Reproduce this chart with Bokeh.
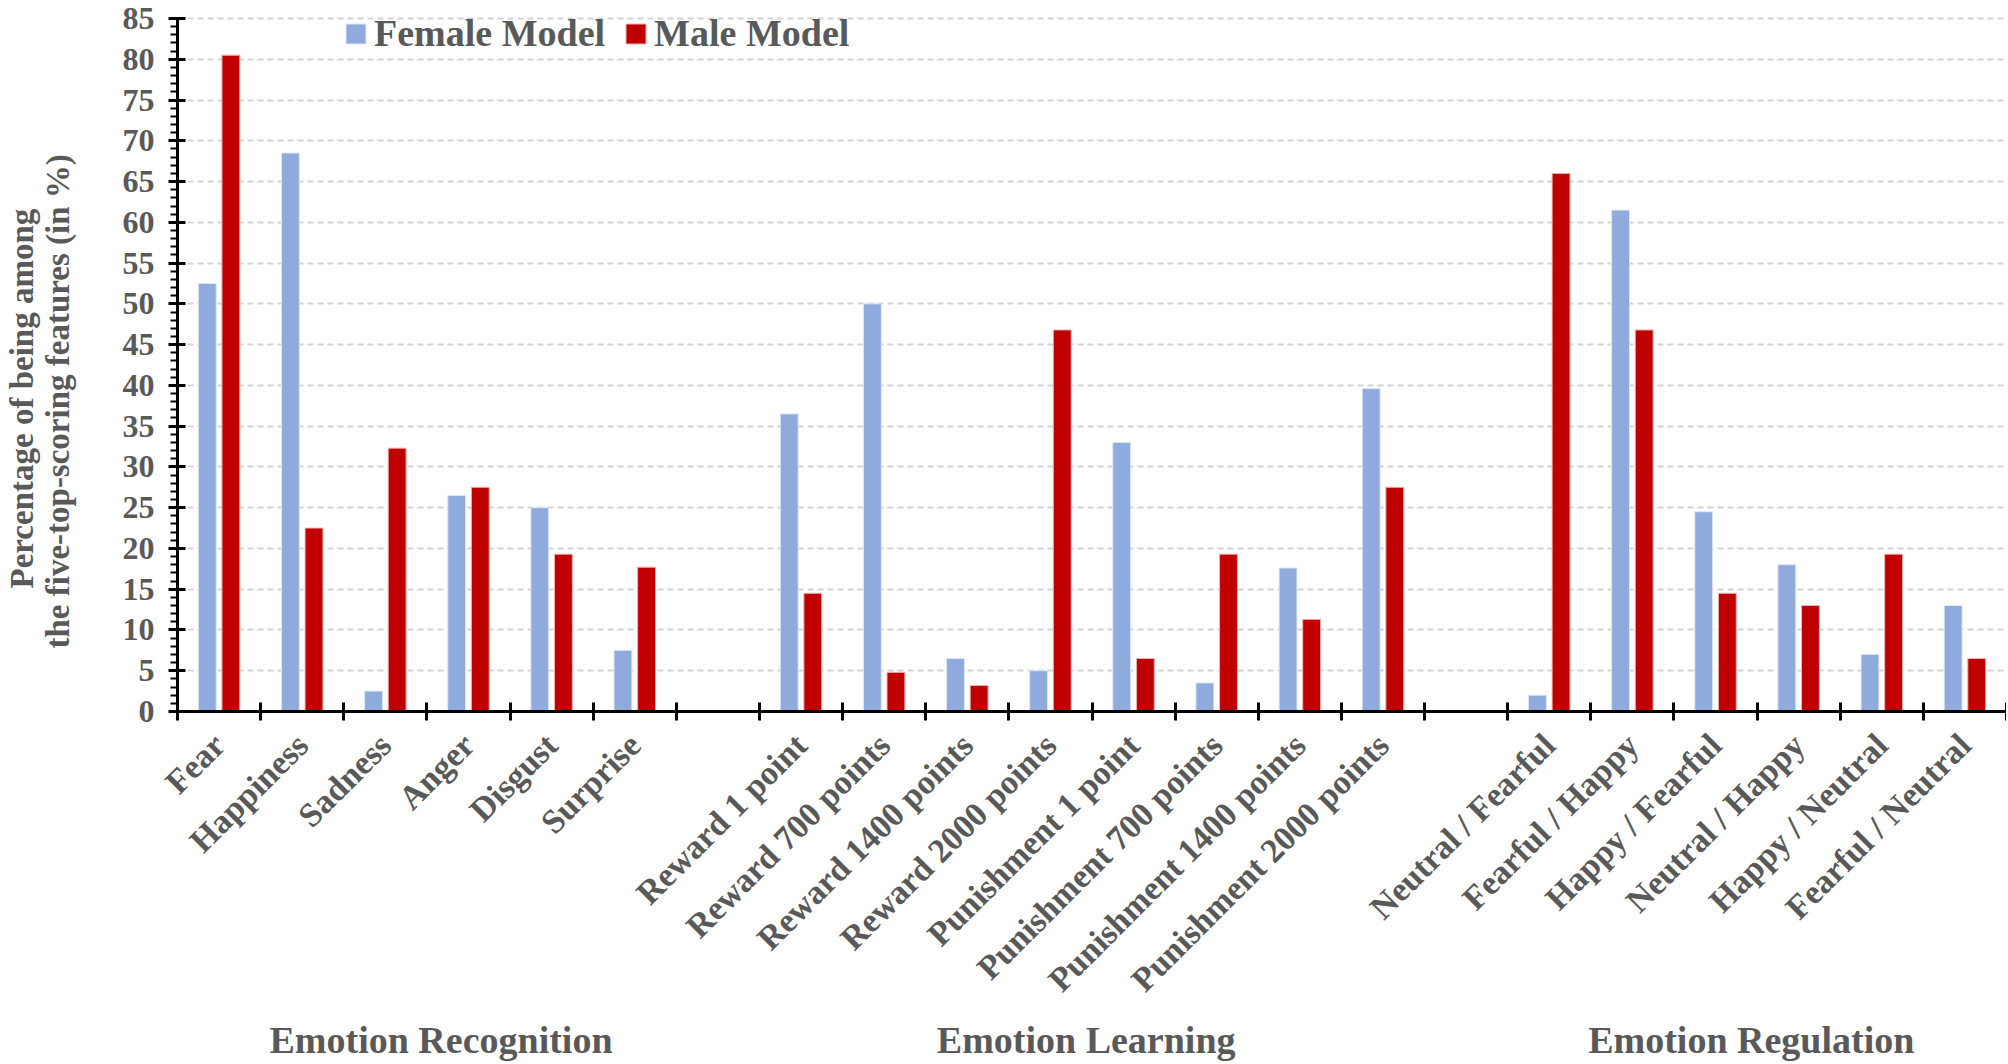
from bokeh.plotting import figure
from bokeh.models import (FixedTicker, Range1d, Legend, LegendItem, ColumnDataSource,
                          LinearAxis, Title)
from bokeh.embed import file_html
from bokeh.resources import INLINE
import math

# ---------------- data ----------------
recognition_cats = ["Fear", "Happiness", "Sadness", "Anger", "Disgust", "Surprise"]
recognition_female = [52.5, 68.5, 2.5, 26.5, 25.0, 7.5]
recognition_male = [80.5, 22.5, 32.3, 27.5, 19.3, 17.7]

learning_cats = ["Reward 1 point", "Reward 700 points", "Reward 1400 points", "Reward 2000 points",
                 "Punishment 1 point", "Punishment 700 points", "Punishment 1400 points",
                 "Punishment 2000 points"]
learning_female = [36.5, 50.0, 6.5, 5.0, 33.0, 3.5, 17.6, 39.6]
learning_male = [14.5, 4.8, 3.2, 46.8, 6.5, 19.3, 11.3, 27.5]

regulation_cats = ["Neutral / Fearful", "Fearful / Happy", "Happy / Fearful", "Neutral / Happy",
                   "Happy / Neutral", "Fearful / Neutral"]
regulation_female = [2.0, 61.5, 24.5, 18.0, 7.0, 13.0]
regulation_male = [66.0, 46.8, 14.5, 13.0, 19.3, 6.5]

group_names = ["Emotion Recognition", "Emotion Learning", "Emotion Regulation"]
group_label_x = [2.67, 10.43, 18.43]
series_names = ["Female Model", "Male Model"]
y_title_lines = ["Percentage of being among", "the five-top-scoring features (in %)"]
y_ticks = list(range(0, 90, 5))
Y_MAX = 85

FEMALE = "#8faadc"
MALE = "#c00000"
GRAY = "#595959"
FONT = "Liberation Serif"

# ---------------- layout of categories (one empty slot between groups) ----------------
groups = [(recognition_cats, recognition_female, recognition_male),
          (learning_cats, learning_female, learning_male),
          (regulation_cats, regulation_female, regulation_male)]
labels = []
xs, fvals, mvals = [], [], []
pos = 0
for gi, (cats, fv, mv) in enumerate(groups):
    for c, f, m in zip(cats, fv, mv):
        labels.append(c)
        xs.append(pos)
        fvals.append(f)
        mvals.append(m)
        pos += 1
    if gi < len(groups) - 1:
        labels.append("")
        pos += 1
n_slots = pos

off = 0.142
bw = 0.215
src = ColumnDataSource(dict(
    xf=[x - off for x in xs], xm=[x + off for x in xs], f=fvals, m=mvals))

LEFT = 177
TOP = 10
FRAME_W = 2008 - LEFT - 2
FRAME_H = 701
TOP_PAD_PX = 8                       # space between frame top and the 85 line
px_per_unit = (FRAME_H - TOP_PAD_PX) / Y_MAX
y_end = Y_MAX + TOP_PAD_PX / px_per_unit

p = figure(frame_width=FRAME_W, frame_height=FRAME_H, output_backend="svg", toolbar_location=None,
           x_range=Range1d(-0.5, n_slots - 0.5), y_range=Range1d(0, y_end),
           min_border_left=LEFT, min_border_right=0, min_border_top=TOP, min_border_bottom=340)
p.outline_line_color = None
p.background_fill_color = "white"

rf = p.vbar(x="xf", top="f", width=bw, bottom=0, source=src, fill_color=FEMALE,
            line_color="#dde6f5", line_width=1)
rm = p.vbar(x="xm", top="m", width=bw, bottom=0, source=src, fill_color=MALE,
            line_color="#f0b0b0", line_width=1)

# grid
p.xgrid.grid_line_color = None
p.ygrid.ticker = FixedTicker(ticks=y_ticks)
p.ygrid.grid_line_color = "#d3d3d3"
p.ygrid.grid_line_dash = "6 4"
p.ygrid.grid_line_width = 2

# y axis
yax = p.yaxis[0]
yax.bounds = (0, Y_MAX)
yax.ticker = FixedTicker(ticks=y_ticks, minor_ticks=list(range(0, Y_MAX + 1)))
yax.axis_line_color = "black"
yax.axis_line_width = 3
yax.major_tick_line_color = "black"
yax.major_tick_line_width = 3
yax.major_tick_in = 8
yax.major_tick_out = 9
yax.minor_tick_line_color = "black"
yax.minor_tick_line_width = 2
yax.minor_tick_in = 0
yax.minor_tick_out = 7
yax.major_label_text_font = FONT
yax.major_label_text_font_style = "bold"
yax.major_label_text_font_size = "32px"
yax.major_label_text_color = GRAY
yax.major_label_standoff = 14
# blank axis label only reserves space between tick labels and the title lines
yax.axis_label = " "
yax.axis_label_text_font_size = "1px"
yax.axis_label_standoff = 43

# y-axis title: two rotated lines in the left panel (closest line added first)
title_offsets = [123, 63]   # distance of each line's start from the frame bottom (px)
for line, offs, stand in zip(reversed(y_title_lines), reversed(title_offsets), [-6, 2]):
    p.add_layout(Title(text=line, align="left", offset=offs, standoff=stand,
                       text_font=FONT, text_font_style="bold", text_font_size="33px",
                       text_color=GRAY), "left")

# x axis: labels at slot centres, tick marks at slot boundaries
xax = p.xaxis[0]
xax.ticker = FixedTicker(ticks=list(range(n_slots)),
                         minor_ticks=[i - 0.5 for i in range(n_slots + 1)])
xax.major_label_overrides = {i: lab for i, lab in enumerate(labels)}
xax.major_tick_line_color = None
xax.minor_tick_line_color = "black"
xax.minor_tick_line_width = 3
xax.minor_tick_in = 9
xax.minor_tick_out = 9
xax.axis_line_color = "black"
xax.axis_line_width = 3
xax.major_label_orientation = math.pi / 4
xax.major_label_text_font = FONT
xax.major_label_text_font_style = "bold"
xax.major_label_text_font_size = "34px"
xax.major_label_text_color = GRAY
xax.major_label_standoff = 19

# group names: a second, line-less axis below the category axis
gax = LinearAxis(ticker=FixedTicker(ticks=group_label_x),
                 major_label_overrides={gx: name for gx, name in zip(group_label_x, group_names)},
                 axis_line_color=None, major_tick_line_color=None, minor_tick_line_color=None,
                 major_tick_in=0, major_tick_out=0, major_label_standoff=4,
                 major_label_text_font=FONT, major_label_text_font_style="bold",
                 major_label_text_font_size="38px", major_label_text_color=GRAY)
p.add_layout(gax, "below")

# legend (inside the frame, at its top edge)
LEG_H = 44
legend = Legend(items=[LegendItem(label=series_names[0], renderers=[rf]),
                       LegendItem(label=series_names[1], renderers=[rm])],
                orientation="horizontal", location=(166, FRAME_H - 1 - LEG_H),
                label_text_font=FONT, label_text_font_style="bold",
                label_text_font_size="38px", label_text_color=GRAY,
                glyph_width=25, glyph_height=25, label_standoff=6, spacing=18,
                padding=0, margin=0, border_line_color=None, background_fill_alpha=0)
p.add_layout(legend)

open("out.html", "w").write(file_html(p, INLINE))
